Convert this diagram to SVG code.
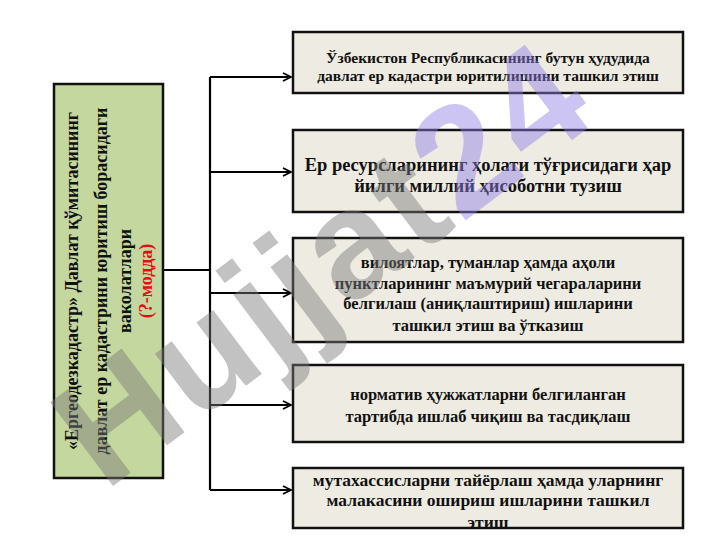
<svg xmlns="http://www.w3.org/2000/svg" width="720" height="540" viewBox="0 0 720 540">
<style>
.box{fill:#eeebe2;stroke:#111;stroke-width:2.5}
.main{fill:#c4d79e;stroke:#111;stroke-width:2.5}
.t{font-family:"Liberation Serif","Times New Roman",serif;font-weight:bold;fill:#111;text-anchor:middle}
.c{fill:none;stroke:#000;stroke-width:2.2}
.wm{font-family:"Liberation Sans",Arial,sans-serif;font-weight:bold;opacity:0.45}
</style>
<defs>
<marker id="ah" viewBox="0 0 10 10" refX="9" refY="5" markerWidth="10" markerHeight="10" markerUnits="userSpaceOnUse" orient="auto">
<path d="M1,1 L9,5 L1,9" fill="none" stroke="#000" stroke-width="1.8"/>
</marker>
</defs>
<rect width="720" height="540" fill="#fff"/>
<g id="connectors">
<path class="c" d="M163,270 H210"/>
<path class="c" d="M210,77 V490"/>
<path class="c" d="M210,77 H291" marker-end="url(#ah)"/>
<path class="c" d="M210,172 H291" marker-end="url(#ah)"/>
<path class="c" d="M210,293 H291" marker-end="url(#ah)"/>
<path class="c" d="M210,405 H291" marker-end="url(#ah)"/>
<path class="c" d="M210,490 H291" marker-end="url(#ah)"/>
</g>
<g id="main">
<rect class="main" x="54" y="84" width="109" height="394"/>
<g transform="translate(108,281) rotate(-90)">
<text class="t" font-size="18" x="0" y="-30">«Ергеодезкадастр» Давлат  қўмитасининг</text>
<text class="t" font-size="18" x="0" y="-1">давлат ер кадастрини юритиш борасидаги</text>
<text class="t" font-size="18" x="0" y="23">ваколатлари</text>
<text class="t" font-size="18" x="0" y="44" style="fill:#e01010">(?-модда)</text>
</g>
</g>
<g id="n1">
<rect class="box" x="293" y="32" width="390" height="61"/>
<text class="t" font-size="15.5" x="488" y="63">Ўзбекистон Республикасининг бутун ҳудудида</text>
<text class="t" font-size="15.5" x="488" y="81">давлат ер кадастри юритилишини ташкил этиш</text>
</g>
<g id="n2">
<rect class="box" x="293" y="130" width="390" height="82"/>
<text class="t" font-size="18.5" x="488" y="171">Ер ресурсларининг ҳолати тўғрисидаги ҳар</text>
<text class="t" font-size="18.5" x="488" y="192">йилги миллий ҳисоботни тузиш</text>
</g>
<g id="n3">
<rect class="box" x="293" y="238" width="390" height="104"/>
<text class="t" font-size="16.5" x="488" y="268">вилоятлар, туманлар ҳамда аҳоли</text>
<text class="t" font-size="16.5" x="488" y="289">пунктларининг маъмурий чегараларини</text>
<text class="t" font-size="16.5" x="488" y="309">белгилаш (аниқлаштириш) ишларини</text>
<text class="t" font-size="16.5" x="488" y="331">ташкил этиш ва ўтказиш</text>
</g>
<g id="n4">
<rect class="box" x="293" y="365" width="390" height="77"/>
<text class="t" font-size="16.5" x="488" y="400">норматив ҳужжатларни белгиланган</text>
<text class="t" font-size="16.5" x="488" y="422">тартибда ишлаб чиқиш ва тасдиқлаш</text>
</g>
<g id="n5">
<rect class="box" x="293" y="468" width="390" height="60"/>
<text class="t" font-size="17.5" x="488" y="486">мутахассисларни тайёрлаш ҳамда уларнинг</text>
<text class="t" font-size="17.5" x="488" y="506">малакасини ошириш ишларини ташкил</text>
<text class="t" font-size="17.5" x="488" y="528">этиш</text>
</g>
<g id="watermark" class="wm" transform="translate(105,492) rotate(-37)">
<text font-size="152" x="0" y="0" letter-spacing="4" fill="#7a7a7a">Hujjat<tspan fill="#8f80e8">24</tspan></text>
</g>
</svg>
